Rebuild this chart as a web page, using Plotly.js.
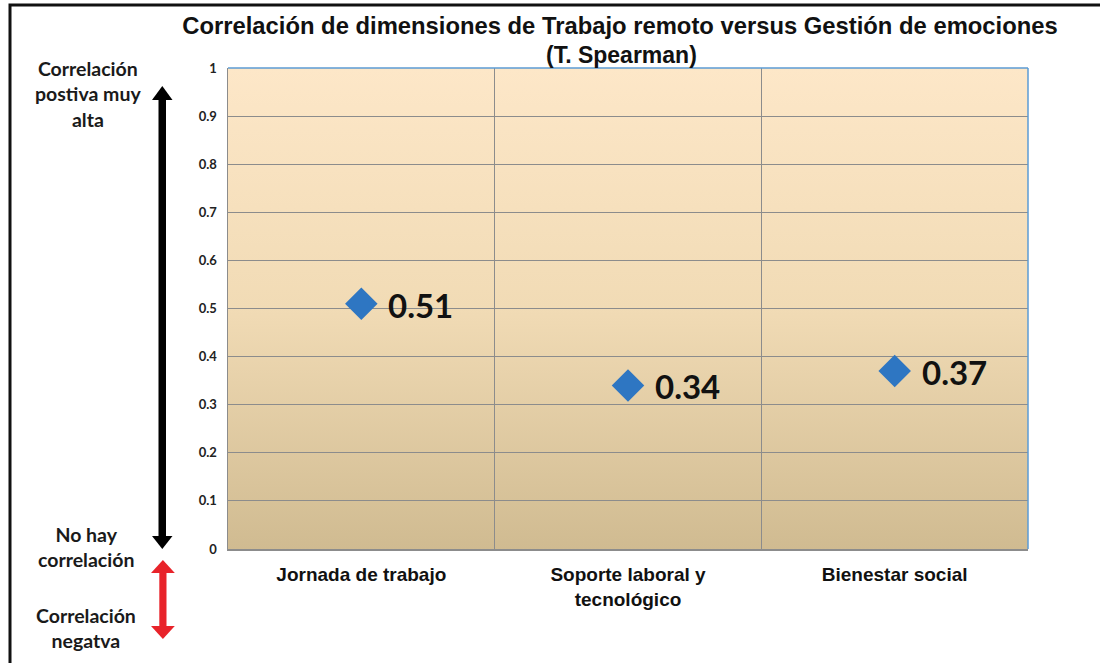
<!DOCTYPE html>
<html>
<head>
<meta charset="utf-8">
<script src="https://cdn.plot.ly/plotly-3.0.1.min.js"></script>
<style>
  html, body { margin: 0; padding: 0; background: #ffffff; }
  #chart { width: 1100px; height: 663px; }
</style>
</head>
<body>
<div id="chart"></div>
<script>
// ---- Data ----
const categories = ["Jornada de trabajo", "Soporte laboral y<br>tecnológico", "Bienestar social"];
const rhoValues = [0.51, 0.34, 0.37];
const valueLabels = ["0.51", "0.34", "0.37"];
const yTickValues = [0, 0.1, 0.2, 0.3, 0.4, 0.5, 0.6, 0.7, 0.8, 0.9, 1];
const yTickLabels = ["0", "0.1", "0.2", "0.3", "0.4", "0.5", "0.6", "0.7", "0.8", "0.9", "1"];
const titleLine1 = "Correlación de dimensiones de Trabajo remoto versus Gestión de emociones";
const titleLine2 = "(T. Spearman)";
const leftTop = "Correlación<br>postiva muy<br>alta";
const leftMid = "No hay<br>correlación";
const leftBottom = "Correlación<br>negatva";

// ---- Layout geometry (pixels) ----
const W = 1100, H = 663;
const M = { l: 228, r: 72, t: 68, b: 114 };
const PW = W - M.l - M.r, PH = H - M.t - M.b;
const px = x => (x - M.l) / PW;
const py = y => (H - M.b - y) / PH;
const pt = (x, y) => px(x).toFixed(5) + "," + py(y).toFixed(5);
const tri = (a, b, c) => "M" + pt(a[0], a[1]) + " L" + pt(b[0], b[1]) + " L" + pt(c[0], c[1]) + " Z";

const gradSvg = '<svg xmlns="http://www.w3.org/2000/svg" width="100" height="100" preserveAspectRatio="none">' +
  '<defs><linearGradient id="g" x1="0" y1="0" x2="0" y2="1">' +
  '<stop offset="0" stop-color="#fde7c8"/><stop offset="0.5" stop-color="#f1dbb5"/><stop offset="1" stop-color="#d0bb91"/>' +
  '</linearGradient></defs><rect width="100" height="100" fill="url(#g)"/></svg>';
const gradUri = "data:image/svg+xml;charset=utf-8," + encodeURIComponent(gradSvg);

const trace = {
  type: "scatter",
  mode: "markers",
  x: categories,
  y: rhoValues,
  marker: { symbol: "diamond", size: 25, color: "#2e76c2", line: { width: 0 } },
  cliponaxis: false,
  hoverinfo: "x+y",
  showlegend: false
};

const black = "#000000", red = "#e8232a";
const shapes = [
  { type: "rect", xref: "paper", yref: "paper", x0: px(10), x1: px(1120), y0: py(5), y1: py(680),
    line: { color: "#111111", width: 3 }, fillcolor: "rgba(0,0,0,0)", layer: "above" },
  { type: "line", xref: "paper", yref: "paper", x0: 0, x1: 1, y0: 1, y1: 1, line: { color: "#5b9bd5", width: 1.5 } },
  { type: "line", xref: "paper", yref: "paper", x0: 1, x1: 1, y0: 0, y1: 1, line: { color: "#5b9bd5", width: 1.5 } },
  { type: "rect", xref: "paper", yref: "paper", x0: px(158.5), x1: px(166), y0: py(98), y1: py(539),
    fillcolor: black, line: { width: 0 } },
  { type: "path", xref: "paper", yref: "paper", path: tri([162.3, 86], [152, 100], [172.5, 100]),
    fillcolor: black, line: { width: 0 } },
  { type: "path", xref: "paper", yref: "paper", path: tri([162.3, 549], [152, 536], [172.5, 536]),
    fillcolor: black, line: { width: 0 } },
  { type: "rect", xref: "paper", yref: "paper", x0: px(159.3), x1: px(166.5), y0: py(571), y1: py(628),
    fillcolor: red, line: { width: 0 } },
  { type: "path", xref: "paper", yref: "paper", path: tri([162.9, 560], [151, 573], [174.8, 573]),
    fillcolor: red, line: { width: 0 } },
  { type: "path", xref: "paper", yref: "paper", path: tri([162.9, 639], [151, 626], [174.8, 626]),
    fillcolor: red, line: { width: 0 } }
];

const sideFont = { family: "Lato, 'Open Sans', sans-serif", size: 19.5, color: "#1a1a1a", weight: "bold" };
const annotations = [
  { text: titleLine2, xref: "paper", yref: "paper", x: px(621), y: py(55), xanchor: "center", yanchor: "middle",
    showarrow: false, font: { family: "'Liberation Sans', Arial, sans-serif", size: 23, color: "#111111", weight: "bold" } },
  { text: leftTop, xref: "paper", yref: "paper", x: px(88), y: py(94), xanchor: "center", yanchor: "middle",
    showarrow: false, align: "center", font: sideFont },
  { text: leftMid, xref: "paper", yref: "paper", x: px(86), y: py(547), xanchor: "center", yanchor: "middle",
    showarrow: false, align: "center", font: sideFont },
  { text: leftBottom, xref: "paper", yref: "paper", x: px(86), y: py(628), xanchor: "center", yanchor: "middle",
    showarrow: false, align: "center", font: sideFont }
];
// value labels next to each marker, placed from the data
for (let i = 0; i < categories.length; i++) {
  annotations.push({
    text: valueLabels[i], x: categories[i], y: rhoValues[i], xref: "x", yref: "y",
    xanchor: "left", yanchor: "middle", xshift: 25, yshift: -1, showarrow: false,
    font: { family: "Lato, 'Open Sans', sans-serif", size: 33, color: "#111111", weight: "bold" }
  });
}

const layout = {
  width: W, height: H,
  margin: M,
  paper_bgcolor: "#ffffff",
  plot_bgcolor: "rgba(0,0,0,0)",
  title: {
    text: titleLine1,
    x: 620 / W, xanchor: "center", xref: "container",
    y: 1 - 26 / H, yanchor: "middle", yref: "container",
    font: { family: "'Liberation Sans', Arial, sans-serif", size: 23.8, color: "#111111", weight: "bold" }
  },
  xaxis: {
    type: "category",
    range: [-0.5, 2.5],
    tickson: "boundaries",
    ticks: "", ticklabelstandoff: 8,
    showgrid: true, gridcolor: "#8c8c8c", gridwidth: 1,
    showline: true, linecolor: "#8c8c8c", linewidth: 1.5,
    tickfont: { family: "'Liberation Sans', Arial, sans-serif", size: 19, color: "#111111", weight: "bold" },
    fixedrange: true
  },
  yaxis: {
    range: [0, 1],
    tickmode: "array", tickvals: yTickValues, ticktext: yTickLabels,
    ticks: "", ticklabelstandoff: 7,
    showgrid: true, gridcolor: "#8c8c8c", gridwidth: 1,
    showline: true, linecolor: "#8c8c8c", linewidth: 1.5,
    zeroline: false,
    tickfont: { family: "Lato, 'Open Sans', sans-serif", size: 13, color: "#222222", weight: "bold" },
    fixedrange: true
  },
  images: [{ source: gradUri, xref: "paper", yref: "paper", x: 0, y: 1, sizex: 1, sizey: 1,
    sizing: "stretch", xanchor: "left", yanchor: "top", layer: "below" }],
  shapes: shapes,
  annotations: annotations,
  showlegend: false
};

Plotly.newPlot("chart", [trace], layout, { displayModeBar: false, staticPlot: true });
</script>
</body>
</html>
